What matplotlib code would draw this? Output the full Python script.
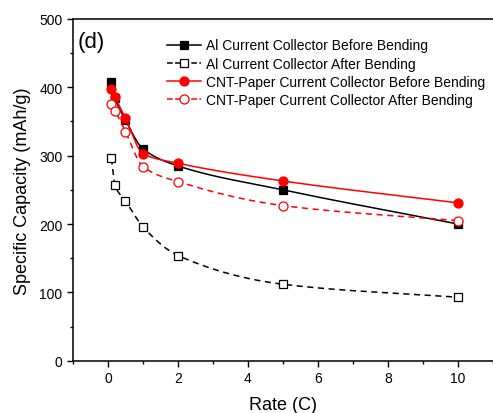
import numpy as np
import matplotlib.pyplot as plt
from matplotlib.ticker import MultipleLocator

plt.rcParams['font.family'] = ['Liberation Sans', 'DejaVu Sans']

# rate (C) and specific capacity (mAh/g)
rate = [0.1, 0.2, 0.5, 1, 2, 5, 10]
al_before = [407, 385, 352, 310, 285, 250, 200]
al_after = [296, 257, 234, 196, 154, 112, 93]
cnt_before = [398, 386, 355, 303, 289, 263, 231]
cnt_after = [375, 366, 335, 284, 262, 227, 205]


def pchip(x, y, xs):
    # monotone cubic curve through the measured points, for the connecting line
    x = np.asarray(x, float)
    y = np.asarray(y, float)
    h = np.diff(x)
    d = np.diff(y) / h
    m = np.zeros_like(y)
    for k in range(1, len(x) - 1):
        if d[k - 1] * d[k] > 0:
            w1 = 2 * h[k] + h[k - 1]
            w2 = h[k] + 2 * h[k - 1]
            m[k] = (w1 + w2) / (w1 / d[k - 1] + w2 / d[k])
    m[0] = d[0]
    m[-1] = d[-1]
    idx = np.clip(np.searchsorted(x, xs) - 1, 0, len(x) - 2)
    t = (xs - x[idx]) / h[idx]
    h00 = 2 * t**3 - 3 * t**2 + 1
    h10 = t**3 - 2 * t**2 + t
    h01 = -2 * t**3 + 3 * t**2
    h11 = t**3 - t**2
    return h00 * y[idx] + h10 * h[idx] * m[idx] + h01 * y[idx + 1] + h11 * h[idx] * m[idx + 1]


fig = plt.figure(figsize=(4.93, 4.14), dpi=100)
ax = fig.add_axes([0.148, 0.126, 0.852, 0.826])

xs = np.linspace(rate[0], rate[-1], 400)
series = [
    (al_before, 'black', '-', 's', 'black', 'Al Current Collector Before Bending'),
    (al_after, 'black', '--', 's', 'white', 'Al Current Collector After Bending'),
    (cnt_before, 'red', '-', 'o', 'red', 'CNT-Paper Current Collector Before Bending'),
    (cnt_after, 'red', '--', 'o', 'white', 'CNT-Paper Current Collector After Bending'),
]
for y, c, ls, mk, fc, lab in series:
    ax.plot(xs, pchip(rate, y, xs), color=c, ls=ls, lw=1.1, dashes=(4, 3) if ls == '--' else (None, None))
    ax.plot(rate, y, ls='none', marker=mk, ms=6.5 if mk == 'o' else 5.8,
            mfc=fc, mec=c, mew=0.9)
    ax.plot([], [], color=c, ls=ls, lw=1.1, marker=mk, ms=6.5 if mk == 'o' else 5.8,
            mfc=fc, mec=c, mew=0.9, label=lab)

ax.set_xlim(-1, 11)
ax.set_ylim(0, 500)
ax.xaxis.set_major_locator(MultipleLocator(2))
ax.xaxis.set_minor_locator(MultipleLocator(1))
ax.yaxis.set_major_locator(MultipleLocator(100))
ax.yaxis.set_minor_locator(MultipleLocator(50))
ax.tick_params(which='major', length=4, width=1, labelsize=10)
ax.tick_params(which='minor', length=2.5, width=1)
ax.spines['right'].set_visible(False)
for s in ['left', 'bottom', 'top']:
    ax.spines[s].set_linewidth(1.1)

ax.set_xlabel('Rate (C)', fontsize=13, labelpad=8)
ax.set_ylabel('Specific Capacity (mAh/g)', fontsize=13, labelpad=6)
ax.text(0.01, 0.965, '(d)', transform=ax.transAxes, fontsize=16, va='top', ha='left')

ax.legend(loc='upper right', bbox_to_anchor=(1.0, 0.967), frameon=False, fontsize=10,
          handlelength=2.4, handletextpad=0.36, labelspacing=0.3, borderaxespad=0.2)

fig.savefig('out.png', dpi=100)
